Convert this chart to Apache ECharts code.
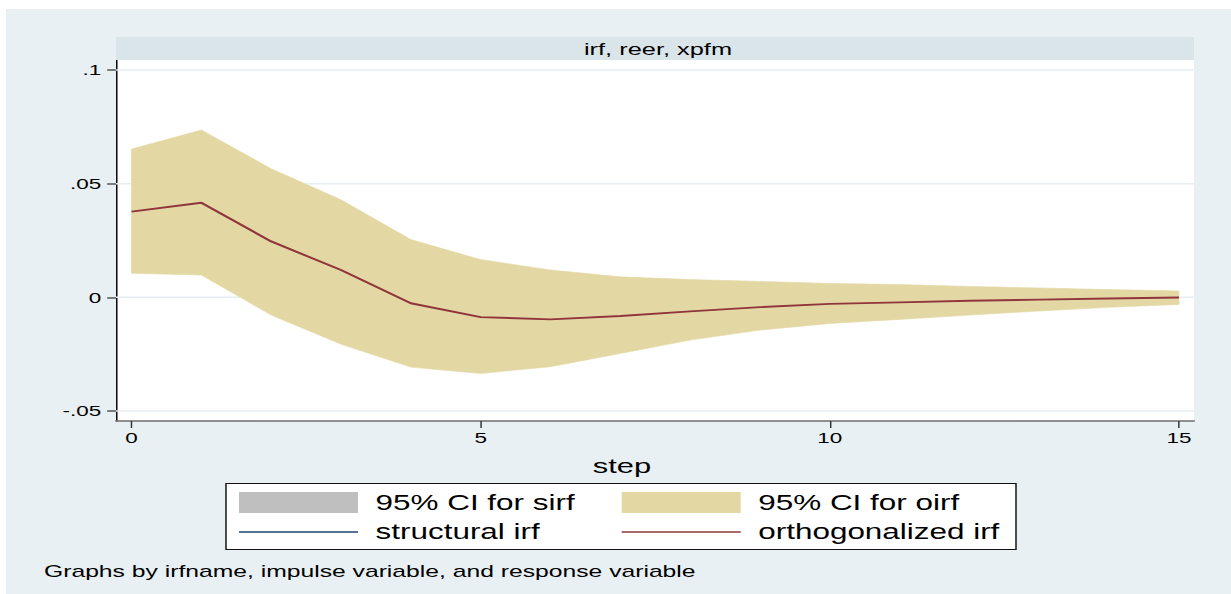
<!DOCTYPE html>
<html>
<head>
<meta charset="utf-8">
<script src="https://cdn.jsdelivr.net/npm/echarts@6/dist/echarts.min.js"></script>
<style>
  html, body { margin: 0; padding: 0; background: #ffffff; overflow: hidden; }
  #chart { width: 838px; height: 594px; transform: scaleX(1.46897); transform-origin: 0 0; }
</style>
</head>
<body>
<div id="chart"></div>
<script>
// ---- data ----
const steps = [0, 1, 2, 3, 4, 5, 6, 7, 8, 9, 10, 11, 12, 13, 14, 15];
const oirf  = [0.0377, 0.0416, 0.0246, 0.0120, -0.0026, -0.0087, -0.0097, -0.0082, -0.0062, -0.0043, -0.0029, -0.0022, -0.0015, -0.0010, -0.0005, -0.0001];
const oirfUpper = [0.0652, 0.0736, 0.0566, 0.0429, 0.0254, 0.0166, 0.0120, 0.0090, 0.0078, 0.0070, 0.0061, 0.0056, 0.0048, 0.0041, 0.0034, 0.0028];
const oirfLower = [0.0106, 0.0098, -0.0078, -0.0206, -0.0307, -0.0335, -0.0305, -0.0247, -0.0188, -0.0144, -0.0115, -0.0097, -0.0078, -0.0060, -0.0044, -0.0031];
const xTicks = [0, 5, 10, 15];
const yTicks = [-0.05, 0, 0.05, 0.1];
const yTickLabels = ['-.05', '0', '.05', '.1'];
const panelTitle = 'irf, reer, xpfm';
const xTitle = 'step';
const noteText = 'Graphs by irfname, impulse variable, and response variable';
const legendNames = ['95% CI for sirf', 'structural irf', '95% CI for oirf', 'orthogonalized irf'];

// ---- layout helpers (screen x -> pre-stretch x) ----
const SX = 1231 / 838;
const cx = v => v / SX;
const FONT = 'Liberation Sans, Arial, Helvetica, sans-serif';
const SAND = '#e3d8a4';
const GRAY = '#bfbfbf';
const NAVY = '#1a476f';
const MAROON = '#90353b';
const LINE_ICON = 'path://M0,0H81V1.7H0Z';

const chart = echarts.init(document.getElementById('chart'), null, { renderer: 'svg', width: 838, height: 594 });

const option = {
  animation: false,
  backgroundColor: '#ffffff',
  textStyle: { fontFamily: FONT },
  grid: {
    left: cx(116), right: 838 - cx(1194), top: 60, bottom: 594 - 421,
    show: true, backgroundColor: '#ffffff', borderWidth: 0,
    containLabel: false, outerBoundsMode: 'none'
  },
  xAxis: {
    type: 'value', min: -0.222, max: 15.215,
    axisLine: { show: true, onZero: false, lineStyle: { color: '#6e6e6e', width: 1.6 } },
    axisTick: { show: true, customValues: xTicks, length: 7, lineStyle: { color: '#333', width: 1 } },
    axisLabel: { customValues: xTicks, fontSize: 15.3, color: '#000', margin: 9, fontFamily: FONT },
    splitLine: { show: false }
  },
  yAxis: {
    type: 'value', min: -0.0544, max: 0.1044,
    axisLine: { show: true, onZero: false, lineStyle: { color: '#000', width: 1 } },
    axisTick: { show: true, customValues: yTicks, length: 6, lineStyle: { color: '#555', width: 1.5 } },
    axisLabel: {
      customValues: yTicks, fontSize: 15.3, color: '#000', margin: 10, fontFamily: FONT,
      formatter: v => { const i = yTicks.findIndex(t => Math.abs(t - v) < 1e-9); return i >= 0 ? yTickLabels[i] : ''; }
    },
    splitLine: { show: false }
  },
  legend: [
    {
      orient: 'vertical', left: cx(239), top: 492, padding: 0,
      itemWidth: 81, itemHeight: 21, itemGap: 8.5, selectedMode: false,
      textStyle: { fontSize: 21.4, color: '#000', fontFamily: FONT, padding: [0, 0, 0, 7] },
      data: [
        { name: legendNames[0], icon: 'rect', itemStyle: { color: GRAY, borderWidth: 0 } },
        { name: legendNames[1], icon: LINE_ICON, itemStyle: { color: NAVY, borderWidth: 0 } }
      ]
    },
    {
      orient: 'vertical', left: cx(621.7), top: 492, padding: 0,
      itemWidth: 81, itemHeight: 21, itemGap: 8.5, selectedMode: false,
      textStyle: { fontSize: 21.4, color: '#000', fontFamily: FONT, padding: [0, 0, 0, 7] },
      data: [
        { name: legendNames[2], icon: 'rect', itemStyle: { color: SAND, borderWidth: 0 } },
        { name: legendNames[3], icon: LINE_ICON, itemStyle: { color: MAROON, borderWidth: 0 } }
      ]
    }
  ],
  graphic: [
    { type: 'rect', z: -10, silent: true, shape: { x: cx(6), y: 9, width: 838 - cx(6), height: 594 - 9 }, style: { fill: '#e9f0f3' } },
    { type: 'rect', z: 10, silent: true, shape: { x: cx(116), y: 37, width: cx(1194) - cx(116), height: 23 }, style: { fill: '#dae5ea' } },
    { type: 'text', z: 11, silent: true, x: cx(658), y: 49, style: { text: panelTitle, font: '17.3px ' + FONT, fill: '#000', align: 'center', verticalAlign: 'middle' } },
    { type: 'text', z: 11, silent: true, x: cx(622), y: 466, style: { text: xTitle, font: '21px ' + FONT, fill: '#000', align: 'center', verticalAlign: 'middle' } },
    { type: 'rect', z: 1, silent: true, shape: { x: cx(226), y: 483.5, width: cx(1016) - cx(226), height: 66 }, style: { fill: '#ffffff', stroke: '#111', lineWidth: 1 } },
    { type: 'text', z: 11, silent: true, x: cx(44), y: 571, style: { text: noteText, font: '16.8px ' + FONT, fill: '#000', align: 'left', verticalAlign: 'middle' } }
  ],
  series: [
    {
      name: 'gridlines', type: 'custom', z: 1, silent: true,
      data: yTicks.map(v => [0, v]),
      renderItem: (params, api) => {
        const y = api.coord([0, api.value(1)])[1];
        const cs = params.coordSys;
        return { type: 'line', shape: { x1: cs.x, y1: y, x2: cs.x + cs.width, y2: y }, style: { stroke: '#e6eef2', lineWidth: 1.5 } };
      }
    },
    { name: legendNames[0], type: 'line', data: [], symbol: 'none', itemStyle: { color: GRAY }, lineStyle: { color: GRAY } },
    { name: legendNames[1], type: 'line', data: [], symbol: 'none', itemStyle: { color: NAVY }, lineStyle: { color: NAVY } },
    {
      name: legendNames[2], type: 'custom', z: 2, silent: true,
      itemStyle: { color: SAND },
      data: steps.map((s, i) => [s, oirfLower[i], oirfUpper[i]]),
      renderItem: (params, api) => {
        if (params.dataIndexInside !== 0) return null;
        const n = params.dataInsideLength;
        const top = [], bot = [];
        for (let k = 0; k < n; k++) {
          top.push(api.coord([api.value(0, k), api.value(2, k)]));
          bot.push(api.coord([api.value(0, k), api.value(1, k)]));
        }
        return { type: 'polygon', shape: { points: top.concat(bot.reverse()) }, style: { fill: SAND, stroke: SAND, lineWidth: 0.5 } };
      }
    },
    {
      name: legendNames[3], type: 'line', z: 3, symbol: 'none', showSymbol: false,
      data: steps.map((s, i) => [s, oirf[i]]),
      itemStyle: { color: MAROON },
      lineStyle: { color: MAROON, width: 1.9 }
    }
  ]
};
chart.setOption(option);
</script>
</body>
</html>
